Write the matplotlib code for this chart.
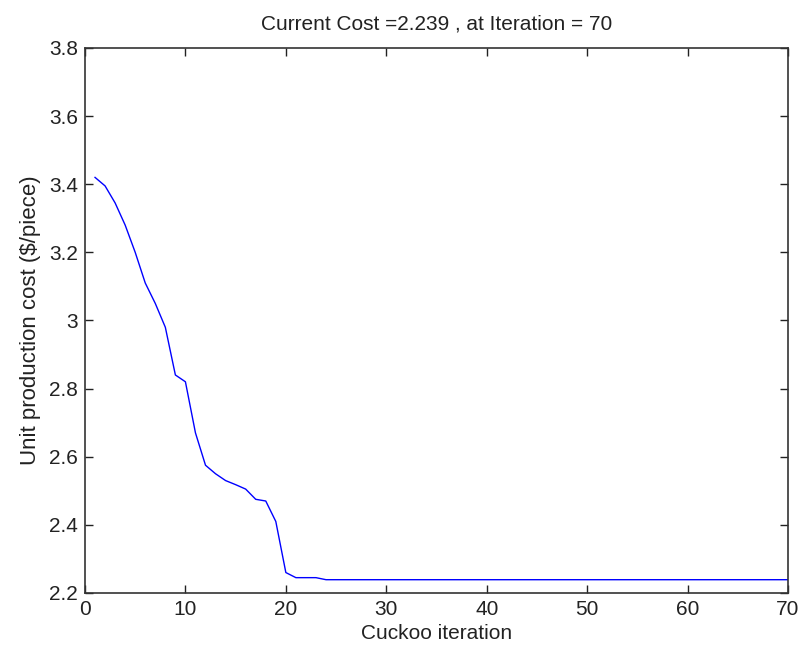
import matplotlib
matplotlib.use('Agg')
import matplotlib.pyplot as plt

plt.rcParams['font.family'] = ['Liberation Sans', 'DejaVu Sans']

# best cost per cuckoo iteration
iterations = list(range(1, 71))
cost_head = [3.42, 3.395, 3.345, 3.28, 3.20, 3.11, 3.05, 2.98, 2.84, 2.82,
             2.67, 2.575, 2.55, 2.53, 2.518, 2.505, 2.475, 2.47, 2.41, 2.26,
             2.245, 2.245, 2.245]
cost_tail = [2.239] * (70 - len(cost_head))
cost = cost_head + cost_tail

x_ticks = [0, 10, 20, 30, 40, 50, 60, 70]
y_ticks = [2.2, 2.4, 2.6, 2.8, 3.0, 3.2, 3.4, 3.6, 3.8]
y_labels = ['2.2', '2.4', '2.6', '2.8', '3', '3.2', '3.4', '3.6', '3.8']

fig = plt.figure(figsize=(8.11, 6.48), dpi=100)
ax = fig.add_axes([0.1048, 0.0849, 0.8668, 0.8411])
ax.plot(iterations, cost, color='#0000ff', linewidth=1.0)

ax.set_xlim(0, 70)
ax.set_ylim(2.2, 3.8)
ax.set_xticks(x_ticks)
ax.set_yticks(y_ticks)
ax.set_yticklabels(y_labels)
ax.tick_params(direction='in', top=True, right=True, length=6, width=1,
               labelsize=15, pad=5, colors='#222222')
for s in ax.spines.values():
    s.set_linewidth(1.2)
    s.set_color('#333333')

ax.set_title('Current Cost =2.239 , at Iteration = 70', fontsize=15, pad=13,
             color='#222222')
ax.set_xlabel('Cuckoo iteration', fontsize=15, labelpad=4, color='#222222')
ax.set_ylabel('Unit production cost ($/piece)', fontsize=16, labelpad=6,
              color='#222222')

fig.savefig('out.png', dpi=100)
